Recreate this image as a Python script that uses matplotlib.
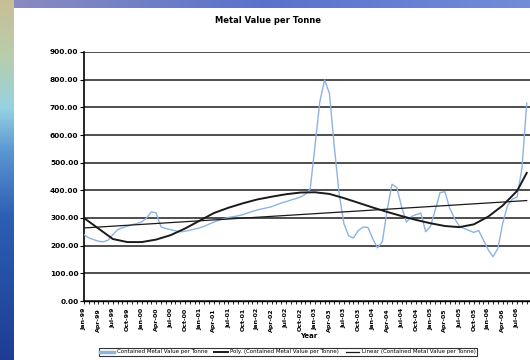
import numpy as np
import pandas as pd
import matplotlib.pyplot as plt
from matplotlib.lines import Line2D

# monthly metal value per tonne
values = [240, 228, 222, 216, 214, 220, 240, 258, 265, 270,
          276, 280, 286, 300, 322, 318, 268, 262, 258, 254,
          250, 252, 256, 260, 264, 270, 278, 285, 292, 297,
          302, 305, 308, 312, 318, 324, 329, 333, 337, 341,
          348, 354, 359, 365, 370, 376, 386, 405, 560, 720,
          799, 750, 560, 390, 280, 235, 228, 255, 267, 266,
          225, 192, 215, 330, 422, 410, 340, 285, 305, 312,
          318, 250, 270, 330, 392, 395, 335, 298, 270, 262,
          255, 248, 255, 220, 185, 160, 190, 280, 345, 368,
          376, 480, 715]
months = pd.date_range('1999-01-01', periods=len(values), freq='MS').strftime('%b-%y')

# polynomial trend, every third month plus the last one
poly_idx = list(range(0, 91, 3)) + [92]
poly_vals = [300, 262, 224, 213, 213, 222, 238, 262, 290, 318,
             337, 353, 367, 377, 386, 392, 393, 387, 372, 355,
             338, 322, 307, 293, 281, 271, 267, 277, 305, 345,
             398, 463]

# linear trend at first and last month
lin_idx = [0, 92]
lin_vals = [264, 363]

series_name = 'Contained Metal Value per Tonne'
title = 'Metal Value per Tonne'

W, H = 530, 360
fig = plt.figure(figsize=(W / 100, H / 100), dpi=100)

# slide background strips (left and top) behind the white chart area
bg = np.ones((H, W, 3))
yy = np.linspace(0, 1, H)
stops_y = [0.0, 0.15, 0.3, 0.42, 0.6, 1.0]
stops_c = np.array([[200, 190, 150], [185, 205, 170], [150, 210, 225],
                    [90, 150, 210], [45, 95, 180], [30, 60, 150]]) / 255
left = np.stack([np.interp(yy, stops_y, stops_c[:, k]) for k in range(3)], axis=1)
bg[:, :14, :] = left[:, None, :]
xx = np.linspace(0, 1, W)
top = np.stack([np.interp(xx, [0, 0.5, 1], c) for c in
                ([0.55, 0.35, 0.45], [0.55, 0.45, 0.55], [0.75, 0.8, 0.85])], axis=1)
bg[:8, 14:, :] = top[None, 14:, :]
bga = fig.add_axes([0, 0, 1, 1], zorder=0)
bga.imshow(bg, aspect='auto', interpolation='bilinear')
bga.axis('off')

ax = fig.add_axes([84 / W, 59 / H, 449 / W, 249 / H], zorder=1)
ax.set_facecolor('white')

x = np.arange(len(values))
ax.plot(x, values, color='#8db3e2', lw=1.0, zorder=3)
ax.plot(poly_idx, poly_vals, color='#1a1a1a', lw=1.4, zorder=4)
ax.plot(lin_idx, lin_vals, color='#1a1a1a', lw=0.9, zorder=4)

ax.set_ylim(0, 900)
ax.set_xlim(0, len(values) + 0.3)
ax.set_yticks(range(0, 901, 100))
ax.set_yticklabels([f'{v:.2f}' for v in range(0, 901, 100)], fontsize=5.3, fontweight='bold')
ax.yaxis.grid(True, color='#404040', lw=1.3)
ax.set_axisbelow(True)

ax.set_xticks(x)
ax.set_xticklabels([m if i % 3 == 0 else '' for i, m in enumerate(months)],
                   rotation=90, fontsize=4.5, fontweight='bold')
ax.tick_params(axis='x', length=2, width=0.6, pad=3)
ax.tick_params(axis='y', length=3, width=0.8, pad=1)

for s in ['top', 'right']:
    ax.spines[s].set_visible(False)
ax.spines['left'].set_linewidth(1.2)
ax.spines['bottom'].set_linewidth(1.0)

ax.set_title(title, fontsize=6, fontweight='bold', pad=21, x=0.41)
ax.set_xlabel('Year', fontsize=5, fontweight='bold', labelpad=1)

handles = [Line2D([], [], color='#8db3e2', lw=2.5),
           Line2D([], [], color='#1a1a1a', lw=1.4),
           Line2D([], [], color='#1a1a1a', lw=0.9)]
labels = [series_name, f'Poly. ({series_name})', f'Linear ({series_name})']
leg = fig.legend(handles, labels, loc='center', bbox_to_anchor=(288 / W, 8 / H),
                 ncol=3, fontsize=4, frameon=True, fancybox=False,
                 handlelength=2.5, columnspacing=1.2, borderpad=0.3, handletextpad=0.4)
leg.get_frame().set_edgecolor('black')
leg.get_frame().set_linewidth(0.8)

fig.savefig('out.png', dpi=100)
